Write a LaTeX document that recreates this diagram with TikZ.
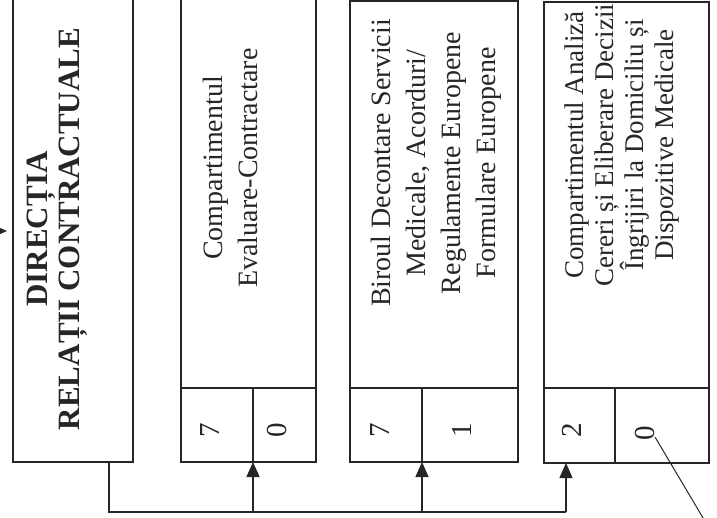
\documentclass[tikz,border=0pt]{standalone}
\usepackage{fontspec}
\setmainfont{Liberation Serif}
\usetikzlibrary{arrows.meta}

\tikzset{
  box/.style={draw=black!85, line width=1.4pt, rectangle, inner sep=0pt, outer sep=0pt, anchor=north west},
  txt/.style={rotate=90, align=center, inner sep=0pt, text=black!85, font=\fontsize{28}{35}\selectfont},
  num/.style={rotate=90, inner sep=0pt, text=black!85, font=\fontsize{29}{30}\selectfont},
  conn/.style={draw=black!85, line width=1.2pt},
  arr/.style={conn, -{Triangle[length=15pt, width=13pt]}}
}

\begin{document}
\begin{tikzpicture}[x=1pt, y=-1pt]
	
	\useasboundingbox (0,0) rectangle (717,518);
	\clip (0,0) rectangle (717,518);
	
	% Directia (partea de sus e taiata)
	\node[box, minimum width=120pt, minimum height=482pt] (dir) at (13,-20) {};
	\node[txt, font=\fontsize{31}{32}\selectfont\bfseries] (dirtxt) at (57,229) {DIRECȚIA\\RELAȚII CONTRACTUALE};
	
	% Compartimentul Evaluare-Contractare
	\node[box, minimum width=135pt, minimum height=408pt] (evc) at (181,-20) {};
	\node[box, minimum width=72pt, minimum height=74pt] (evc7) at (181,388) {};
	\node[box, minimum width=63pt, minimum height=74pt] (evc0) at (253,388) {};
	\node[txt] (evctxt) at (230,168) {Compartimentul\\Evaluare-Contractare};
	\node[num] (evcn7) at (210,430) {7};
	\node[num] (evcn0) at (277,430) {0};
	
	% Biroul Decontare
	\node[box, minimum width=168pt, minimum height=387pt] (dfe) at (350,1) {};
	\node[box, minimum width=72pt, minimum height=74pt] (dfe7) at (350,388) {};
	\node[box, minimum width=96pt, minimum height=74pt] (dfe1) at (422,388) {};
	\node[txt] (dfetxt) at (436,163) {Biroul Decontare Servicii\\Medicale, Acorduri/\\Regulamente Europene\\Formulare Europene};
	\node[num] (dfen7) at (380,430) {7};
	\node[num] (dfen1) at (462,430) {1};
	
	% Compartimentul Analiza Cereri
	\node[box, minimum width=165pt, minimum height=386pt] (ana) at (544,2) {};
	\node[box, minimum width=71pt, minimum height=75pt] (ana2) at (544,388) {};
	\node[box, minimum width=94pt, minimum height=75pt] (ana0) at (615,388) {};
	\node[txt, font=\fontsize{27}{30}\selectfont] (anatxt) at (622,145) {Compartimentul Analiză\\Cereri și Eliberare Decizii\\Îngrijiri la Domiciliu și\\Dispozitive Medicale};
	\node[num] (anan2) at (572,430) {2};
	\node[num] (anan0) at (645,433) {0};
	
	% Legaturi
	\coordinate (bus) at (566,512);
	\draw[conn] ([xshift=-24pt]dir.south east) |- (bus);
	\draw[arr] (bus) -- (bus |- ana2.south);
	\draw[arr] (evc7.south east |- bus) -- (evc7.south east);
	\draw[arr] (dfe7.south east |- bus) -- (dfe7.south east);
	
	% Sageata spre directie
	\coordinate (dirin) at (-30,231);
	\draw[arr, shorten >=6pt] (dirin) -- (dirin -| dir.west);
	
	% Linia oblica
	\coordinate (note) at (709,528);
	\draw[conn, line width=1pt] ([xshift=10pt, yshift=-4pt]anan0.center) -- (note);
	
\end{tikzpicture}
\end{document}
